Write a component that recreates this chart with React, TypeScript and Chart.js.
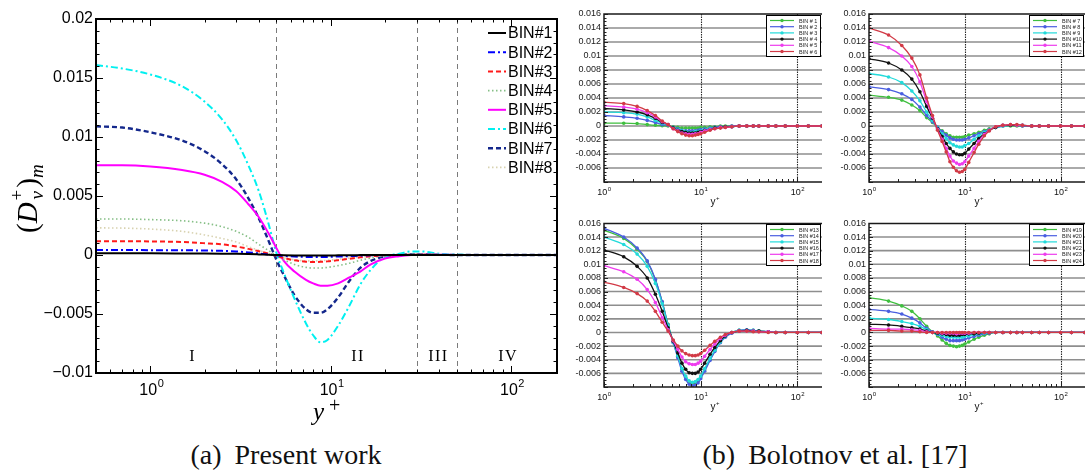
import React, { useEffect, useRef } from "react";
import { Chart, registerables } from "chart.js";

Chart.register(...registerables);

// ---------------- (a) Present work ----------------
const leftX = [0.5, 0.7, 1, 1.5, 2, 2.5, 3, 3.5, 4, 4.5, 5, 5.5, 6.3, 7.3, 8, 8.8, 9.6, 11, 12.7, 14.6, 16.7, 20, 24, 28, 32, 40, 50, 70, 100, 180];
const bin1 = [0.00014, 0.00014, 0.00014, 0.00013, 0.00012, 0.00011, 0.0001, 0.00008, 0.00005, 0.00002, 0, -0.00002, -0.00004, -0.00005, -0.00005, -0.00005, -0.00004, -0.00003, -0.00002, -0.00001, 0, 0, 0, 0, 0, 0, 0, 0, 0, 0];
const bin2 = [0.00042, 0.00042, 0.00041, 0.0004, 0.00038, 0.00035, 0.0003, 0.00022, 0.00013, 0.00005, -0.00002, -0.00008, -0.00013, -0.00016, -0.00017, -0.00017, -0.00016, -0.00013, -0.0001, -0.00006, -0.00003, -0.00001, 0, 0, 0, 0, 0, 0, 0, 0];
const bin3 = [0.00117, 0.00117, 0.00115, 0.0011, 0.001, 0.0009, 0.00072, 0.00052, 0.00032, 0.00012, -0.00008, -0.00025, -0.00045, -0.00057, -0.0006, -0.00058, -0.00054, -0.00044, -0.00032, -0.0002, -0.0001, -0.00003, 0, 0.00002, 0.00002, 0.00001, 0, 0, 0, 0];
const bin4 = [0.00305, 0.00305, 0.003, 0.0029, 0.0027, 0.0024, 0.002, 0.0015, 0.0009, 0.0004, -0.00005, -0.0004, -0.0008, -0.00105, -0.0011, -0.0011, -0.00105, -0.0009, -0.0007, -0.00045, -0.00025, -0.00008, 0.00002, 0.00005, 0.00005, 0.00003, 0.00001, 0, 0, 0];
const bin5 = [0.0076, 0.0076, 0.0075, 0.0072, 0.0068, 0.0062, 0.0054, 0.0043, 0.0032, 0.0019, 0.0006, -0.0005, -0.0014, -0.0021, -0.0024, -0.0026, -0.0026, -0.0024, -0.0019, -0.0014, -0.0008, -0.0003, -0.0001, 0, 0.00003, 0.00002, 0, 0, 0, 0];
const bin6 = [0.0161, 0.0158, 0.0153, 0.0143, 0.013, 0.0115, 0.0097, 0.0076, 0.0054, 0.0028, 0.0002, -0.0015, -0.0037, -0.0058, -0.0068, -0.0074, -0.0072, -0.006, -0.0043, -0.0025, -0.00125, -0.00015, 0.0001, 0.0003, 0.0003, 0.0001, 0.00003, 0, 0, 0];
const bin7 = [0.0109, 0.0108, 0.0104, 0.0097, 0.0088, 0.0077, 0.0064, 0.0048, 0.0031, 0.0013, -0.0004, -0.0017, -0.0034, -0.0046, -0.0049, -0.0049, -0.0046, -0.0036, -0.0022, -0.0011, -0.0005, -0.00012, 0.00002, 0.00005, 0.00005, 0.00002, 0, 0, 0, 0];
const bin8 = [0.0023, 0.00228, 0.0022, 0.002, 0.0017, 0.0014, 0.0011, 0.0007, 0.0004, 0.00012, -0.0001, -0.00025, -0.0004, -0.0005, -0.0005, -0.00048, -0.00045, -0.00036, -0.00026, -0.00016, -0.00008, -0.00002, 0, 0.00001, 0.00001, 0, 0, 0, 0, 0];
const leftLabels = ["BIN#1", "BIN#2", "BIN#3", "BIN#4", "BIN#5", "BIN#6", "BIN#7", "BIN#8"];
const yTicksLeft = [0.02, 0.015, 0.01, 0.005, 0, -0.005, -0.01];
const yTickLabelsLeft = ["0.02", "0.015", "0.01", "0.005", "0", "\u22120.005", "\u22120.01"];
const xTicksLog = [1, 10, 100];
const xTickExp = ["0", "1", "2"];
const regionBounds = [5, 30, 50];
const regionCenters = [1.72, 14.2, 39.6, 96.5];
const regionLabels = ["I", "II", "III", "IV"];

// ---------------- (b) Bolotnov et al. ----------------
const rightX = [1, 1.6, 2.2, 2.8, 3.4, 4, 4.6, 5.2, 5.8, 6.4, 7, 7.6, 8.2, 8.8, 9.4, 10, 11, 12.5, 14, 16, 18, 21, 25, 30, 35, 40, 50, 60, 75, 100, 130, 180];
const bolBin1 = [0.0004, 0.0004, 0.00035, 0.0002, 0.0001, 0.00005, 0, -0.0001, -0.0002, -0.0003, -0.0003, -0.0003, -0.0003, -0.0003, -0.0003, -0.0002, -0.0002, -0.0001, -0.0001, 0, 0, 0, 0, 0, 0, 0, 0, 0, 0, 0, 0, 0];
const bolBin2 = [0.0015, 0.0013, 0.0011, 0.0008, 0.0005, 0.0002, 0.0001, -0.0002, -0.0004, -0.0006, -0.0007, -0.0007, -0.0007, -0.0007, -0.0006, -0.0005, -0.0004, -0.0003, -0.0002, -0.0001, -0.0001, 0, 0, 0, 0, 0, 0, 0, 0, 0, 0, 0];
const bolBin3 = [0.002, 0.0019, 0.0017, 0.0013, 0.0008, 0.0004, 0.00015, -0.0003, -0.0005, -0.0007, -0.0008, -0.0009, -0.0009, -0.0008, -0.0008, -0.0007, -0.0005, -0.0004, -0.0003, -0.0002, -0.0001, -0.0001, 0, 0, 0, 0, 0, 0, 0, 0, 0, 0];
const bolBin4 = [0.0025, 0.0023, 0.002, 0.0016, 0.0011, 0.0005, 0.0002, -0.0003, -0.0006, -0.0008, -0.0009, -0.001, -0.001, -0.001, -0.0009, -0.0008, -0.0006, -0.0005, -0.0003, -0.0002, -0.0001, -0.0001, 0, 0, 0, 0, 0, 0, 0, 0, 0, 0];
const bolBin5 = [0.0029, 0.0027, 0.0024, 0.0019, 0.0013, 0.0006, 0.0002, -0.0004, -0.0007, -0.001, -0.0011, -0.0012, -0.0012, -0.0011, -0.0011, -0.0009, -0.0007, -0.0005, -0.0004, -0.0002, -0.0002, -0.0001, 0, 0, 0, 0, 0, 0, 0, 0, 0, 0];
const bolBin6 = [0.0034, 0.0032, 0.0028, 0.0022, 0.0015, 0.0007, 0.0002, -0.0004, -0.0008, -0.0011, -0.0013, -0.0014, -0.0014, -0.0013, -0.0012, -0.0011, -0.0009, -0.0006, -0.0004, -0.0003, -0.0002, -0.0001, 0, 0, 0, 0, 0, 0, 0, 0, 0, 0];
const bolBin7 = [0.0044, 0.0041, 0.0037, 0.003, 0.0022, 0.0012, 0.0005, -0.0002, -0.0007, -0.0011, -0.0014, -0.0016, -0.0016, -0.0016, -0.0016, -0.0015, -0.0013, -0.0011, -0.0009, -0.0006, -0.0004, -0.0002, 0, 0, 0, 0, 0, 0, 0, 0, 0, 0];
const bolBin8 = [0.0056, 0.0052, 0.0046, 0.0038, 0.0027, 0.0015, 0.0006, -0.0002, -0.0008, -0.0013, -0.0017, -0.0019, -0.002, -0.002, -0.002, -0.0019, -0.0017, -0.0014, -0.0011, -0.0008, -0.0005, -0.0002, 0, 0.0001, 0.0001, 0, 0, 0, 0, 0, 0, 0];
const bolBin9 = [0.0075, 0.007, 0.0062, 0.005, 0.0036, 0.002, 0.0008, -0.0003, -0.0011, -0.0018, -0.0024, -0.0027, -0.0029, -0.003, -0.003, -0.0028, -0.0025, -0.0019, -0.0014, -0.0009, -0.0005, -0.0002, 0, 0.0001, 0.0001, 0.0001, 0, 0, 0, 0, 0, 0];
const bolBin10 = [0.0096, 0.009, 0.008, 0.0067, 0.0049, 0.0028, 0.0011, -0.0004, -0.0015, -0.0025, -0.0032, -0.0037, -0.004, -0.0041, -0.0041, -0.0039, -0.0033, -0.0025, -0.0018, -0.0011, -0.0006, -0.0002, 0.0001, 0.0001, 0.0001, 0.0001, 0, 0, 0, 0, 0, 0];
const bolBin11 = [0.0121, 0.0112, 0.01, 0.0085, 0.0063, 0.0035, 0.0013, -0.0005, -0.0019, -0.0032, -0.0043, -0.005, -0.0053, -0.0055, -0.0054, -0.0051, -0.0043, -0.0032, -0.0022, -0.0012, -0.0006, -0.0001, 0.0001, 0.0002, 0.0001, 0.0001, 0, 0, 0, 0, 0, 0];
const bolBin12 = [0.014, 0.013, 0.0115, 0.0097, 0.0073, 0.004, 0.0015, -0.0006, -0.0022, -0.0037, -0.0051, -0.0059, -0.0064, -0.0066, -0.0065, -0.0062, -0.0052, -0.0038, -0.0026, -0.0014, -0.0007, -0.0001, 0.0001, 0.0002, 0.0002, 0.0001, 0, 0, 0, 0, 0, 0];
const bolBin13 = [0.015, 0.0138, 0.0122, 0.0104, 0.0077, 0.0045, 0.0012, -0.0014, -0.0035, -0.0054, -0.0066, -0.0073, -0.0075, -0.0074, -0.0071, -0.0066, -0.0055, -0.004, -0.0027, -0.0014, -0.0006, 0, 0.0003, 0.0003, 0.0003, 0.0002, 0.0001, 0, 0, 0, 0, 0];
const bolBin14 = [0.0153, 0.014, 0.0124, 0.0105, 0.0078, 0.0045, 0.0011, -0.0015, -0.0037, -0.0057, -0.0069, -0.0076, -0.0078, -0.0077, -0.0074, -0.0068, -0.0057, -0.0041, -0.0028, -0.0015, -0.0007, -0.0001, 0.0003, 0.0004, 0.0003, 0.0002, 0.0001, 0, 0, 0, 0, 0];
const bolBin15 = [0.014, 0.0129, 0.0115, 0.0097, 0.0072, 0.0042, 0.001, -0.0014, -0.0034, -0.0053, -0.0064, -0.0071, -0.0073, -0.0072, -0.0069, -0.0064, -0.0053, -0.0038, -0.0026, -0.0014, -0.0006, 0, 0.0003, 0.0003, 0.0003, 0.0002, 0.0001, 0, 0, 0, 0, 0];
const bolBin16 = [0.0121, 0.0111, 0.0097, 0.008, 0.0056, 0.0031, 0.0007, -0.0013, -0.003, -0.0045, -0.0054, -0.0059, -0.006, -0.006, -0.0058, -0.0054, -0.0045, -0.0032, -0.0022, -0.0012, -0.0005, 0, 0.0002, 0.0003, 0.0002, 0.0002, 0.0001, 0, 0, 0, 0, 0];
const bolBin17 = [0.0098, 0.0089, 0.0078, 0.0063, 0.0044, 0.0022, 0.0004, -0.0012, -0.0025, -0.0036, -0.0043, -0.0046, -0.0047, -0.0047, -0.0045, -0.0042, -0.0035, -0.0025, -0.0017, -0.0009, -0.0004, 0, 0.0002, 0.0002, 0.0002, 0.0001, 0.0001, 0, 0, 0, 0, 0];
const bolBin18 = [0.0074, 0.0066, 0.0057, 0.0046, 0.0031, 0.0015, 0.0002, -0.0011, -0.002, -0.0027, -0.0031, -0.0033, -0.0034, -0.0034, -0.0033, -0.0031, -0.0026, -0.0019, -0.0013, -0.0007, -0.0003, 0, 0.0002, 0.0002, 0.0001, 0.0001, 0, 0, 0, 0, 0, 0];
const bolBin19 = [0.0051, 0.0046, 0.0039, 0.0031, 0.002, 0.0009, 0.0001, -0.0005, -0.0011, -0.0016, -0.0019, -0.002, -0.0021, -0.002, -0.0019, -0.0017, -0.0014, -0.001, -0.0007, -0.0004, -0.0002, 0, 0, 0, 0, 0, 0, 0, 0, 0, 0, 0];
const bolBin20 = [0.0034, 0.0031, 0.0027, 0.0021, 0.0014, 0.0006, 0.0001, -0.0003, -0.0007, -0.001, -0.0012, -0.0012, -0.0012, -0.0012, -0.0011, -0.001, -0.0008, -0.0006, -0.0004, -0.0002, -0.0001, 0, 0, 0, 0, 0, 0, 0, 0, 0, 0, 0];
const bolBin21 = [0.0021, 0.0019, 0.0016, 0.0013, 0.0009, 0.0004, 0, -0.0002, -0.0004, -0.0006, -0.0007, -0.0007, -0.0007, -0.0007, -0.0007, -0.0006, -0.0005, -0.0003, -0.0002, -0.0001, 0, 0, 0, 0, 0, 0, 0, 0, 0, 0, 0, 0];
const bolBin22 = [0.0012, 0.0011, 0.0009, 0.0007, 0.0005, 0.0002, 0, -0.0001, -0.0002, -0.0003, -0.0004, -0.0004, -0.0004, -0.0004, -0.0003, -0.0003, -0.0002, -0.0002, -0.0001, 0, 0, 0, 0, 0, 0, 0, 0, 0, 0, 0, 0, 0];
const bolBin23 = [0.0006, 0.0005, 0.0005, 0.0004, 0.0003, 0.0001, 0, 0, -0.0001, -0.0001, -0.0001, -0.0001, -0.0002, -0.0001, -0.0001, -0.0001, -0.0001, 0, 0, 0, 0, 0, 0, 0, 0, 0, 0, 0, 0, 0, 0, 0];
const bolBin24 = [0.0003, 0.0003, 0.0002, 0.0002, 0.0001, 0, 0, 0, 0, 0, 0, 0, 0, 0, 0, 0, 0, 0, 0, 0, 0, 0, 0, 0, 0, 0, 0, 0, 0, 0, 0, 0];
const labelsA = ["BIN # 1", "BIN # 2", "BIN # 3", "BIN # 4", "BIN # 5", "BIN # 6"];
const labelsB = ["BIN # 7", "BIN # 8", "BIN # 9", "BIN #10", "BIN #11", "BIN #12"];
const labelsC = ["BIN #13", "BIN #14", "BIN #15", "BIN #16", "BIN #17", "BIN #18"];
const labelsD = ["BIN #19", "BIN #20", "BIN #21", "BIN #22", "BIN #23", "BIN #24"];
const yTicksRight = [0.016, 0.014, 0.012, 0.01, 0.008, 0.006, 0.004, 0.002, 0, -0.002, -0.004, -0.006];
const yTickLabelsRight = ["0.016", "0.014", "0.012", "0.01", "0.008", "0.006", "0.004", "0.002", "0", "-0.002", "-0.004", "-0.006"];
const rightGridX = [10, 100];

// ---------------- styles ----------------
const SANS = '"Liberation Sans", Arial, Helvetica, sans-serif';
const SERIF = '"Liberation Serif", "Times New Roman", serif';
const leftStyles = [
  { color: "#000000", dash: [] as number[], width: 2 },
  { color: "#0000ff", dash: [7, 3, 2, 3], width: 2 },
  { color: "#ff1a1a", dash: [5, 3], width: 2 },
  { color: "#86bf86", dash: [1.5, 2.5], width: 1.6 },
  { color: "#ff00ff", dash: [] as number[], width: 2 },
  { color: "#00f0f0", dash: [7, 3, 2, 3], width: 2 },
  { color: "#14288c", dash: [5, 3], width: 2.4 },
  { color: "#d8d2b0", dash: [1.5, 2.5], width: 1.6 },
];
const rightColors = ["#3fbf3f", "#4a5ee0", "#22dada", "#111111", "#ee3cee", "#d23a46"];

function line(ctx: CanvasRenderingContext2D, x1: number, y1: number, x2: number, y2: number) {
  ctx.beginPath();
  ctx.moveTo(x1, y1);
  ctx.lineTo(x2, y2);
  ctx.stroke();
}

function logTickValues(min: number, max: number) {
  const out: { v: number; major: boolean }[] = [];
  for (let e = -1; e <= 3; e++) {
    const d = Math.pow(10, e);
    for (let m = 1; m <= 9; m++) {
      const v = m * d;
      if (v >= min * 0.999 && v <= max * 1.001) out.push({ v, major: m === 1 });
    }
  }
  return out;
}

function drawPow10(ctx: CanvasRenderingContext2D, px: number, baseY: number, exp: string, big: number, small: number, rise: number) {
  ctx.font = `${big}px ${SANS}`;
  const w1 = ctx.measureText("10").width;
  ctx.font = `${small}px ${SANS}`;
  const w2 = ctx.measureText(exp).width;
  const sx = px - (w1 + w2) / 2;
  ctx.textAlign = "left";
  ctx.textBaseline = "alphabetic";
  ctx.font = `${big}px ${SANS}`;
  ctx.fillText("10", sx, baseY);
  ctx.font = `${small}px ${SANS}`;
  ctx.fillText(exp, sx + w1 + 0.5, baseY - rise);
}

const leftPlugin = {
  id: "leftDeco",
  beforeDatasetsDraw(chart: any) {
    const { ctx, chartArea } = chart;
    const xs = chart.scales.x;
    ctx.save();
    ctx.strokeStyle = "#7a7a7a";
    ctx.lineWidth = 1;
    ctx.setLineDash([5, 4]);
    regionBounds.forEach((b) => {
      const px = Math.round(xs.getPixelForValue(b)) + 0.5;
      line(ctx, px, chartArea.top, px, chartArea.bottom);
    });
    ctx.restore();
  },
  afterDraw(chart: any) {
    const { ctx } = chart;
    const { left, right, top, bottom } = chart.chartArea;
    const xs = chart.scales.x;
    const ys = chart.scales.y;
    ctx.save();
    ctx.strokeStyle = "#000";
    ctx.lineWidth = 1;
    for (let k = -10; k <= 20; k++) {
      const py = Math.round(ys.getPixelForValue(k / 1000)) + 0.5;
      const L = k % 5 === 0 ? 7 : 3.5;
      line(ctx, left, py, left + L, py);
      line(ctx, right - L, py, right, py);
    }
    logTickValues(0.5, 180).forEach(({ v, major }) => {
      const px = Math.round(xs.getPixelForValue(v)) + 0.5;
      const L = major ? 7 : 3.5;
      line(ctx, px, bottom, px, bottom - L);
      line(ctx, px, top, px, top + L);
    });
    ctx.lineWidth = 2;
    ctx.strokeRect(left, top, right - left, bottom - top);

    ctx.fillStyle = "#000";
    xTicksLog.forEach((v, i) => drawPow10(ctx, xs.getPixelForValue(v) + 1, bottom + 22, xTickExp[i], 16, 11, 8));

    // region labels
    ctx.font = `16px ${SERIF}`;
    ctx.textAlign = "center";
    ctx.textBaseline = "alphabetic";
    (ctx as any).letterSpacing = "1.5px";
    regionCenters.forEach((c, i) => ctx.fillText(regionLabels[i], xs.getPixelForValue(c), bottom - 12));
    (ctx as any).letterSpacing = "0px";

    // legend
    leftLabels.forEach((lab, i) => {
      const y = top + 14 + i * 19.2;
      const st = leftStyles[i];
      ctx.strokeStyle = st.color;
      ctx.lineWidth = st.width;
      ctx.setLineDash(st.dash);
      line(ctx, right - 69, y, right - 51, y);
      ctx.setLineDash([]);
      ctx.fillStyle = "#000";
      ctx.font = `16px ${SANS}`;
      ctx.textAlign = "left";
      ctx.textBaseline = "middle";
      ctx.fillText(lab, right - 49, y + 1);
    });

    // x title  y+
    ctx.fillStyle = "#000";
    ctx.textBaseline = "alphabetic";
    ctx.textAlign = "left";
    ctx.font = `italic 25px ${SERIF}`;
    ctx.fillText("y", 313, bottom + 47);
    ctx.font = `20px ${SERIF}`;
    ctx.fillText("+", 329, bottom + 39);

    // y title (D_v^+)_m rotated
    ctx.save();
    ctx.translate(28, 195);
    ctx.rotate(-Math.PI / 2);
    let x = -38;
    const base = 9;
    ctx.font = `29px ${SERIF}`;
    ctx.fillText("(", x, base);
    x += ctx.measureText("(").width;
    ctx.font = `italic 29px ${SERIF}`;
    ctx.fillText("D", x, base);
    x += ctx.measureText("D").width + 2;
    ctx.font = `19px ${SERIF}`;
    ctx.fillText("+", x, base - 14);
    const wPlus = ctx.measureText("+").width;
    ctx.font = `italic 19px ${SERIF}`;
    ctx.fillText("\u03bd", x + 1, base + 6);
    x += wPlus + 2;
    ctx.font = `29px ${SERIF}`;
    ctx.fillText(")", x, base);
    x += ctx.measureText(")").width;
    ctx.font = `italic 19px ${SERIF}`;
    ctx.fillText("m", x, base + 6);
    ctx.restore();

    ctx.restore();
  },
};

function makeRightPlugin(labels: string[]) {
  return {
    id: "rightDeco",
    beforeDatasetsDraw(chart: any) {
      const { ctx } = chart;
      const { left, right, top, bottom } = chart.chartArea;
      const xs = chart.scales.x;
      const ys = chart.scales.y;
      ctx.save();
      ctx.strokeStyle = "#8e8e8e";
      ctx.lineWidth = 1.6;
      yTicksRight.forEach((v) => {
        const py = ys.getPixelForValue(v);
        if (py > top + 2) line(ctx, left, py, right, py);
      });
      ctx.strokeStyle = "#2a2a2a";
      ctx.lineWidth = 1.1;
      ctx.setLineDash([1.5, 1]);
      rightGridX.forEach((v) => {
        const px = Math.round(xs.getPixelForValue(v)) + 0.5;
        line(ctx, px, top, px, bottom);
      });
      ctx.restore();
    },
    afterDraw(chart: any) {
      const { ctx } = chart;
      const { left, right, top, bottom } = chart.chartArea;
      const xs = chart.scales.x;
      const ys = chart.scales.y;
      ctx.save();
      ctx.strokeStyle = "#222";
      ctx.lineWidth = 1;
      for (let k = -16; k <= 32; k++) {
        const py = Math.round(ys.getPixelForValue(k / 2000)) + 0.5;
        const L = k % 4 === 0 ? 4 : 2.5;
        line(ctx, left, py, left + L, py);
      }
      logTickValues(1, 180).forEach(({ v, major }) => {
        const px = Math.round(xs.getPixelForValue(v)) + 0.5;
        line(ctx, px, bottom, px, bottom - (major ? 5 : 3));
      });
      ctx.strokeStyle = "#1a1a1a";
      ctx.lineWidth = 1.5;
      ctx.beginPath();
      ctx.moveTo(right, top);
      ctx.lineTo(left, top);
      ctx.lineTo(left, bottom);
      ctx.lineTo(right, bottom);
      ctx.stroke();

      ctx.fillStyle = "#111";
      xTicksLog.forEach((v, i) => drawPow10(ctx, xs.getPixelForValue(v), bottom + 13, xTickExp[i], 9, 6, 4));
      const cx = (left + right) / 2;
      ctx.font = `10px ${SANS}`;
      ctx.textAlign = "center";
      ctx.fillText("y", cx, bottom + 23);
      ctx.font = `6px ${SANS}`;
      ctx.textAlign = "left";
      ctx.fillText("+", cx + 3, bottom + 18);

      // legend box
      const bw = 54;
      const bh = 41;
      const bx = Math.round(right - 56);
      const by = Math.round(top + 1);
      ctx.fillStyle = "#fff";
      ctx.fillRect(bx, by, bw, bh);
      ctx.strokeStyle = "#000";
      ctx.lineWidth = 1;
      ctx.strokeRect(bx + 0.5, by + 0.5, bw, bh);
      labels.forEach((lab, i) => {
        const y = by + 5.5 + i * 6.2;
        ctx.strokeStyle = rightColors[i];
        ctx.lineWidth = 1.2;
        line(ctx, bx + 4, y, bx + 28, y);
        ctx.fillStyle = rightColors[i];
        ctx.beginPath();
        ctx.arc(bx + 16, y, 1.7, 0, Math.PI * 2);
        ctx.fill();
        ctx.fillStyle = "#222";
        ctx.font = `5.5px ${SANS}`;
        ctx.textAlign = "left";
        ctx.textBaseline = "middle";
        ctx.fillText(lab, bx + 33, y + 0.5);
      });
      ctx.restore();
    },
  };
}

function buildLeft(canvas: HTMLCanvasElement) {
  const series = [bin1, bin2, bin3, bin4, bin5, bin6, bin7, bin8];
  return new Chart(canvas, {
    type: "line",
    data: {
      datasets: series.map((vals, i) => ({
        label: leftLabels[i],
        data: leftX.map((x, j) => ({ x, y: vals[j] })),
        borderColor: leftStyles[i].color,
        borderDash: leftStyles[i].dash,
        borderWidth: leftStyles[i].width,
        pointRadius: 0,
        fill: false,
        cubicInterpolationMode: "monotone",
      })),
    } as any,
    options: {
      animation: false,
      responsive: false,
      devicePixelRatio: 1,
      layout: { padding: { top: 19, right: 3, left: 0, bottom: 0 } },
      plugins: { legend: { display: false }, tooltip: { enabled: false } },
      scales: {
        x: {
          type: "logarithmic",
          min: 0.5,
          max: 180,
          ticks: { display: false },
          grid: { display: false, drawTicks: false },
          border: { display: false },
          afterFit: (s: any) => { s.height = 57; },
        },
        y: {
          type: "linear",
          min: -0.01,
          max: 0.02,
          afterBuildTicks: (s: any) => { s.ticks = yTicksLeft.map((v) => ({ value: v })); },
          ticks: {
            callback: (_v: any, i: number) => yTickLabelsLeft[i],
            font: { family: SANS, size: 16 },
            color: "#000",
            padding: 3,
            autoSkip: false,
          },
          grid: { display: false, drawTicks: false },
          border: { display: false },
          afterFit: (s: any) => { s.width = 96; },
        },
      },
    } as any,
    plugins: [leftPlugin],
  });
}

type Panel = { left: number; top: number; width: number; height: number; padTop: number; yW: number; xH: number; series: number[][]; labels: string[] };
const panels: Panel[] = [
  { left: 560, top: 0, width: 266, height: 215, padTop: 14, yW: 44, xH: 33, series: [bolBin1, bolBin2, bolBin3, bolBin4, bolBin5, bolBin6], labels: labelsA },
  { left: 826, top: 0, width: 263, height: 215, padTop: 14, yW: 43, xH: 33, series: [bolBin7, bolBin8, bolBin9, bolBin10, bolBin11, bolBin12], labels: labelsB },
  { left: 560, top: 215, width: 266, height: 200, padTop: 7, yW: 44, xH: 28, series: [bolBin13, bolBin14, bolBin15, bolBin16, bolBin17, bolBin18], labels: labelsC },
  { left: 826, top: 215, width: 263, height: 200, padTop: 7, yW: 43, xH: 28, series: [bolBin19, bolBin20, bolBin21, bolBin22, bolBin23, bolBin24], labels: labelsD },
];

function buildRight(canvas: HTMLCanvasElement, p: Panel) {
  return new Chart(canvas, {
    type: "line",
    data: {
      datasets: p.series.map((vals, i) => ({
        label: p.labels[i],
        data: rightX.map((x, j) => ({ x, y: vals[j] })),
        borderColor: rightColors[i],
        backgroundColor: rightColors[i],
        pointBackgroundColor: rightColors[i],
        pointBorderColor: rightColors[i],
        pointRadius: 1.8,
        pointBorderWidth: 0,
        borderWidth: 1.3,
        fill: false,
        order: 5 - i,
        cubicInterpolationMode: "monotone",
      })),
    } as any,
    options: {
      animation: false,
      responsive: false,
      devicePixelRatio: 1,
      layout: { padding: { top: p.padTop, right: 0, left: 0, bottom: 0 } },
      plugins: { legend: { display: false }, tooltip: { enabled: false } },
      scales: {
        x: {
          type: "logarithmic",
          min: 1,
          max: 180,
          ticks: { display: false },
          grid: { display: false, drawTicks: false },
          border: { display: false },
          afterFit: (s: any) => { s.height = p.xH; },
        },
        y: {
          type: "linear",
          min: -0.008,
          max: 0.016,
          afterBuildTicks: (s: any) => { s.ticks = yTicksRight.map((v) => ({ value: v })); },
          ticks: {
            callback: (_v: any, i: number) => yTickLabelsRight[i],
            font: { family: SANS, size: 9 },
            color: "#1a1a1a",
            padding: 3,
            autoSkip: false,
          },
          grid: { display: false, drawTicks: false },
          border: { display: false },
          afterFit: (s: any) => { s.width = p.yW; },
        },
      },
    } as any,
    plugins: [makeRightPlugin(p.labels)],
  });
}

function ChartCanvas(props: { left: number; top: number; width: number; height: number; build: (c: HTMLCanvasElement) => Chart }) {
  const ref = useRef<HTMLCanvasElement>(null);
  useEffect(() => {
    const chart = props.build(ref.current!);
    return () => chart.destroy();
  }, []);
  return (
    <canvas
      ref={ref}
      width={props.width}
      height={props.height}
      style={{ position: "absolute", left: props.left, top: props.top, width: props.width, height: props.height }}
    />
  );
}

const captionStyle: React.CSSProperties = {
  position: "absolute",
  top: 441,
  width: 400,
  textAlign: "center",
  fontFamily: SERIF,
  fontSize: 28,
  lineHeight: "28px",
  color: "#111",
  whiteSpace: "nowrap",
};

export default function App() {
  return (
    <div style={{ position: "absolute", left: 0, top: 0, width: 1089, height: 476, background: "#fff", overflow: "hidden" }}>
      <ChartCanvas left={0} top={0} width={560} height={430} build={buildLeft} />
      {panels.map((p, i) => (
        <ChartCanvas key={i} left={p.left} top={p.top} width={p.width} height={p.height} build={(c) => buildRight(c, p)} />
      ))}
      <div style={{ ...captionStyle, left: 86 }}>
        <span style={{ marginRight: 6 }}>(a)</span> Present work
      </div>
      <div style={{ ...captionStyle, left: 635 }}>
        <span style={{ marginRight: 6 }}>(b)</span> Bolotnov et al. [17]
      </div>
    </div>
  );
}
